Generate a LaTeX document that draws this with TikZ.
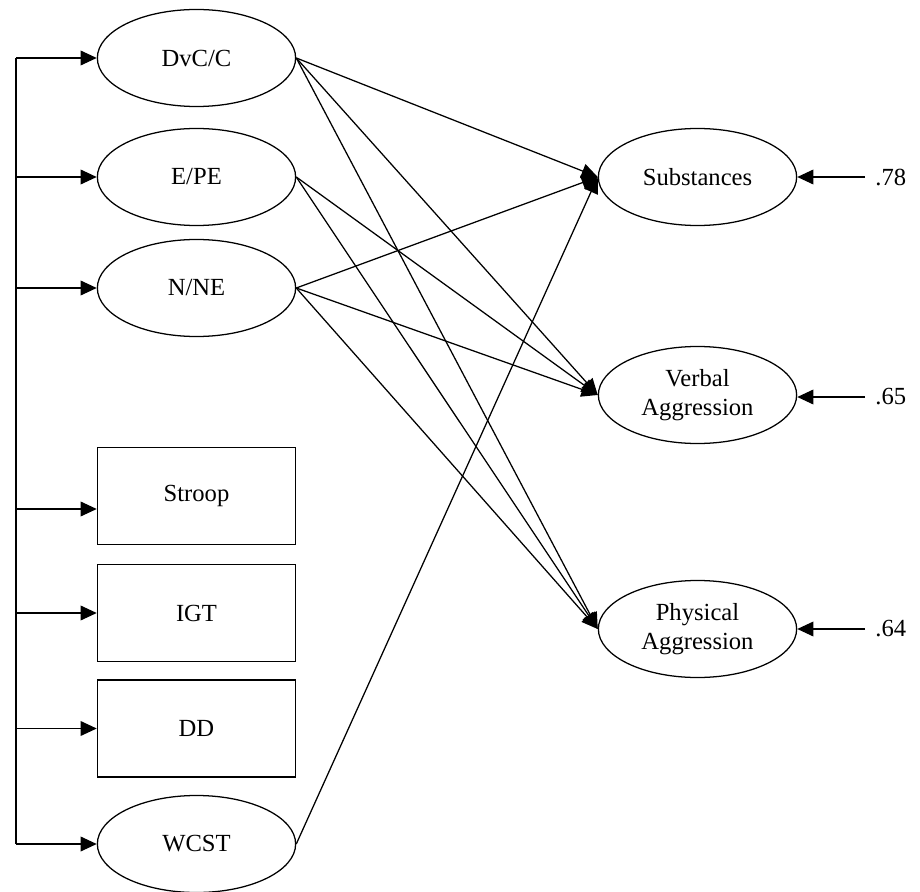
\documentclass[tikz,border=0pt]{standalone}
\usepackage{fontspec}
\setmainfont{Liberation Serif}
\usetikzlibrary{arrows.meta,shapes.geometric}
\begin{document}
\begin{tikzpicture}[x=0.025cm,y=-0.025cm,line width=0.9pt,
    latent/.style={ellipse,draw,minimum width=141pt,minimum height=69pt,inner sep=0pt,align=center,font=\fontsize{17.5}{21}\selectfont},
    observed/.style={rectangle,draw,minimum width=141pt,minimum height=69pt,inner sep=0pt,font=\fontsize{17.5}{21}\selectfont},
    effect/.style={-{Triangle[length=11.5pt,width=10.5pt]}}]
  \useasboundingbox (0,0) rectangle (920,892);
  \node[latent](dvc) at (196.5,58){DvC/C};
  \node[latent](epe) at (196.5,177){E/PE};
  \node[latent](nne) at (196.5,288){N/NE};
  \node[observed](stroop) at (196.5,496){Stroop};
  \node[observed](igt) at (196.5,613){IGT};
  \node[observed](dd) at (196.5,728.5){DD};
  \node[latent](wcst) at (196.5,844){WCST};
  \node[latent](subst) at (697.5,177){Substances};
  \node[latent](verbal) at (697.5,395){Verbal\\Aggression};
  \node[latent](physical) at (697.5,629){Physical\\Aggression};
  \node[anchor=west,inner xsep=7pt,font=\fontsize{17.5}{21}\selectfont](e1) at (865,177){.78};
  \node[anchor=west,inner xsep=7pt,font=\fontsize{17.5}{21}\selectfont](e2) at (865,397){.65};
  \node[anchor=west,inner xsep=7pt,font=\fontsize{17.5}{21}\selectfont](e3) at (865,629){.64};
  \coordinate (bustop) at (16,58);
  \coordinate (busbot) at (16,844);
  \draw (bustop) -- (busbot);
  \foreach \n in {dvc,epe,nne,igt,dd,wcst}
    \draw[effect] (bustop |- \n.west) -- (\n.west);
  \draw[effect] (bustop |- 0,509) -- (stroop.west |- 0,509);
  \foreach \s/\t in {dvc/subst,dvc/verbal,dvc/physical,epe/verbal,epe/physical,nne/subst,nne/verbal,nne/physical,wcst/subst}
    \draw[effect] (\s.east) -- (\t.west);
  \draw[effect] (e1.west) -- (subst.east);
  \draw[effect] (e2.west) -- (verbal.east |- e2.west);
  \draw[effect] (e3.west) -- (physical.east);
\end{tikzpicture}
\end{document}
